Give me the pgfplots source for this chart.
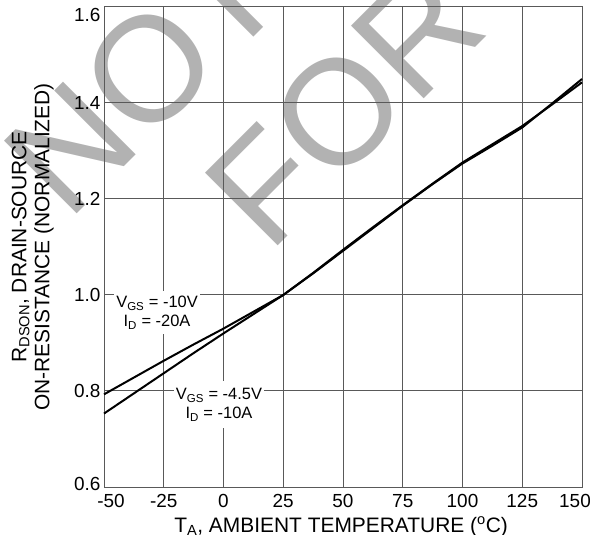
\documentclass[border=0pt]{standalone}
\usepackage{fontspec}
\setmainfont{Liberation Sans}
\usepackage{pgfplots}
\pgfplotsset{compat=1.18}
\usetikzlibrary{calc}
\definecolor{gridc}{gray}{0.35}
\definecolor{wmark}{gray}{0.70}

\begin{document}
\begin{tikzpicture}
\begin{axis}[
  set layers,
  width=478bp, height=480bp, scale only axis,
  xmin=-50, xmax=150, ymin=0.6, ymax=1.6,
  xtick={-50,-25,0,25,50,75,100,125,150},
  xticklabels={\kern14bp-50,-25,0,25,50,75,100,125,150\kern14bp},
  ytick={0.6,0.8,1.0,1.2,1.4,1.6},
  yticklabels={\raisebox{3bp}[\height][\depth]{0.6},0.8,1.0,1.2,1.4,\raisebox{-8bp}[\height][\depth]{1.6}},
  /pgf/number format/assume math mode=true,
  tick label style={font=\fontsize{19}{19}\selectfont},
  xticklabel style={yshift=-4bp},
  major tick length=0pt,
  grid=major, grid style={gridc, line width=1bp},
  axis line style={gridc, line width=1bp},
  clip=false,
  xlabel={T\textsubscript{A}, AMBIENT TEMPERATURE (\textsuperscript{o}C)},
  xlabel style={font=\fontsize{21}{23}\selectfont, at={(axis description cs:0.496,-0.094)}, anchor=base, inner sep=0pt},
  ylabel={R\textsubscript{DSON}, DRAIN-SOURCE\\ON-RESISTANCE (NORMALIZED)},
  ylabel style={font=\fontsize{21}{23}\selectfont, align=center, at={(axis description cs:-0.105,0.5)}, anchor=south, inner sep=0pt},
]
% watermark, behind the grid
\begin{pgfonlayer}{axis background}
\node[overlay, rotate=45, anchor=base west, inner sep=0pt, text=wmark, font=\fontsize{150}{150}\selectfont] at (axis cs:-65,1.15) {NOT RECOMMENDED};
\node[overlay, rotate=45, anchor=base west, inner sep=0pt, text=wmark, font=\fontsize{150}{150}\selectfont] at (axis cs:19,1.085) {FOR NEW DESIGN};
\end{pgfonlayer}

% curve labels
\node[fill=white, inner xsep=2bp, inner ysep=5bp, align=center, anchor=north, yshift=4bp,
  font=\fontsize{16.5}{19}\selectfont] at (axis cs:-27.8,1.0) {V\textsubscript{GS} = -10V\\I\textsubscript{D} = -20A};
\node[fill=white, inner xsep=2bp, inner ysep=7bp, align=center, anchor=north, yshift=10bp,
  font=\fontsize{16.5}{19}\selectfont] at (axis cs:-1.9,0.8) {V\textsubscript{GS} = -4.5V\\I\textsubscript{D} = -10A};

% VGS = -10V, ID = -20A
\addplot[black, line width=2bp] coordinates {
  (-50,0.793) (-37.5,0.828) (-25,0.863) (-12.5,0.897) (0,0.930) (12.5,0.965)
  (25,1.000) (37.5,1.046) (50,1.094) (62.5,1.141) (75,1.187) (87.5,1.232)
  (100,1.276) (112.5,1.314) (125,1.352) (137.5,1.397) (150,1.443)};
% VGS = -4.5V, ID = -10A
\addplot[black, line width=2bp] coordinates {
  (-50,0.753) (-37.5,0.795) (-25,0.837) (-12.5,0.879) (0,0.920) (12.5,0.960)
  (25,1.000) (37.5,1.045) (50,1.092) (62.5,1.139) (75,1.186) (87.5,1.231)
  (100,1.274) (112.5,1.311) (125,1.349) (137.5,1.399) (150,1.450)};
\end{axis}
\pgfresetboundingbox
\useasboundingbox ($(current axis.south west)+(-104bp,-48bp)$) rectangle ($(current axis.north east)+(8bp,7bp)$);
\end{tikzpicture}
\end{document}
